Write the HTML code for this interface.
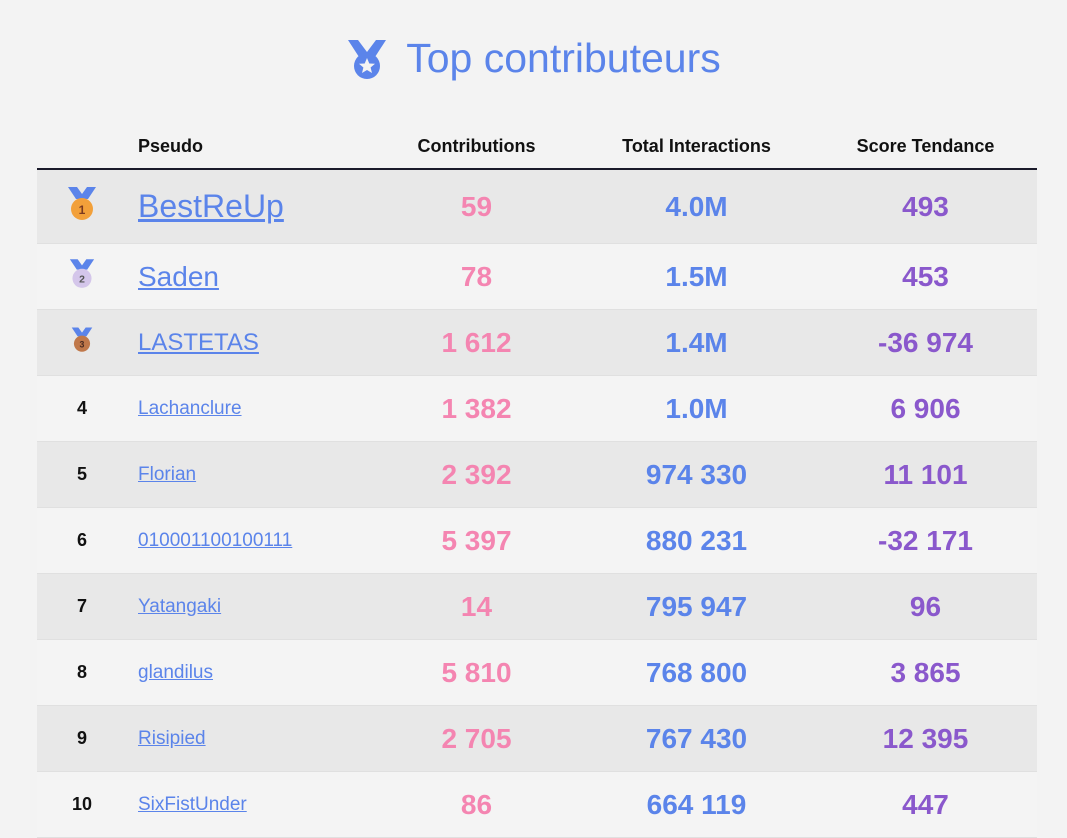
<!DOCTYPE html>
<html><head><meta charset="utf-8"><style>
body{margin:0;background:#f3f3f3;font-family:"Liberation Sans","DejaVu Sans",sans-serif;width:1067px;height:832px;overflow:hidden;position:relative}
h1{position:absolute;top:30px;left:0;width:1067px;text-align:center;margin:0;font-weight:normal;font-size:41px;color:#5b84ea;line-height:56px}
h1 svg{vertical-align:-8px;margin-right:18px}
table{position:absolute;left:37px;top:124px;width:1000px;border-collapse:collapse;table-layout:fixed}
th{font-size:18px;font-weight:bold;color:#111;height:44px;padding:0;border-bottom:2px solid #1a1a2a}
td{padding:0;height:65px;border-bottom:1px solid #e0e0e0}
tr.a td{background:#e8e8e8}tr.b td{background:#f4f4f4}
.r{text-align:center;font-weight:bold;font-size:18px;color:#111}
.p{text-align:left;padding-left:11px}
.p a{color:#5b84ea;text-decoration:underline;font-size:19px}
.c,.t,.s{text-align:center;font-weight:bold;font-size:28px}
.c{color:#f485b1}.t{color:#5b84ea}.s{color:#8a58cc}
</style></head><body>
<h1><svg width="42" height="42" viewBox="0 0 42 42"><path d="M2 2h10l9 12 9-12h10l-11 17h-16z" fill="#5b84ea"/><circle cx="21" cy="28" r="13" fill="#5b84ea"/><polygon points="21,20 23.3,25.5 29,25.8 24.6,29.5 26,35 21,32 16,35 17.4,29.5 13,25.8 18.7,25.5" fill="#f3f3f3"/></svg>Top contributeurs</h1>
<table>
<colgroup><col style="width:90px"><col style="width:247px"><col style="width:205px"><col style="width:235px"><col style="width:223px"></colgroup>
<tr><th></th><th style="text-align:left;padding-left:11px">Pseudo</th><th>Contributions</th><th>Total Interactions</th><th>Score Tendance</th></tr>
<tr class="a"><td class="r" style="height:73px"><svg width="30" height="34" viewBox="0 0 30 34"><path d="M1 0h9l5 7 5-7h9l-8 12h-12z" fill="#5b84ea"/><circle cx="15" cy="22" r="11" fill="#f2a03a"/><text x="15" y="27" font-size="12" text-anchor="middle" fill="#7a3a20" font-family="Liberation Sans">1</text></svg></td><td class="p"><a style="font-size:32px">BestReUp</a></td><td class="c">59</td><td class="t">4.0M</td><td class="s">493</td></tr>
<tr class="b"><td class="r"><svg width="26" height="30" viewBox="0 0 30 34"><path d="M1 0h9l5 7 5-7h9l-8 12h-12z" fill="#5b84ea"/><circle cx="15" cy="22" r="11" fill="#d4c6ea"/><text x="15" y="27" font-size="12" text-anchor="middle" fill="#555" font-family="Liberation Sans">2</text></svg></td><td class="p"><a style="font-size:28px">Saden</a></td><td class="c">78</td><td class="t">1.5M</td><td class="s">453</td></tr>
<tr class="a"><td class="r"><svg width="22" height="26" viewBox="0 0 30 34"><path d="M1 0h9l5 7 5-7h9l-8 12h-12z" fill="#5b84ea"/><circle cx="15" cy="22" r="11" fill="#c0784a"/><text x="15" y="27" font-size="12" text-anchor="middle" fill="#4a2a20" font-family="Liberation Sans">3</text></svg></td><td class="p"><a style="font-size:24px">LASTETAS</a></td><td class="c">1 612</td><td class="t">1.4M</td><td class="s">-36 974</td></tr>
<tr class="b"><td class="r">4</td><td class="p"><a>Lachanclure</a></td><td class="c">1 382</td><td class="t">1.0M</td><td class="s">6 906</td></tr>
<tr class="a"><td class="r">5</td><td class="p"><a>Florian</a></td><td class="c">2 392</td><td class="t">974 330</td><td class="s">11 101</td></tr>
<tr class="b"><td class="r">6</td><td class="p"><a>010001100100111</a></td><td class="c">5 397</td><td class="t">880 231</td><td class="s">-32 171</td></tr>
<tr class="a"><td class="r">7</td><td class="p"><a>Yatangaki</a></td><td class="c">14</td><td class="t">795 947</td><td class="s">96</td></tr>
<tr class="b"><td class="r">8</td><td class="p"><a>glandilus</a></td><td class="c">5 810</td><td class="t">768 800</td><td class="s">3 865</td></tr>
<tr class="a"><td class="r">9</td><td class="p"><a>Risipied</a></td><td class="c">2 705</td><td class="t">767 430</td><td class="s">12 395</td></tr>
<tr class="b"><td class="r">10</td><td class="p"><a>SixFistUnder</a></td><td class="c">86</td><td class="t">664 119</td><td class="s">447</td></tr>
</table>
</body></html>
